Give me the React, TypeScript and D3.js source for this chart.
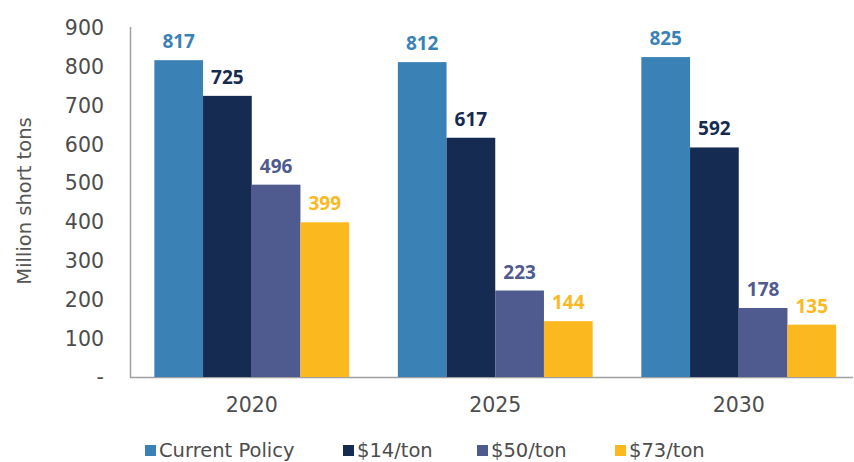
import React from "react";
import * as d3 from "d3";

const categories = ["2020", "2025", "2030"];
const seriesNames = ["Current Policy", "$14/ton", "$50/ton", "$73/ton"];
const currentPolicy = [817, 812, 825];
const ton14 = [725, 617, 592];
const ton50 = [496, 223, 178];
const ton73 = [399, 144, 135];
const yTicks = [0, 100, 200, 300, 400, 500, 600, 700, 800, 900];
const colors = ["#3a82b5", "#152b51", "#4f5a8f", "#fbb91f"];

const W = 854;
const H = 462;
const FONT = "'DejaVu Sans', sans-serif";
const BOLD_FONT = "'Open Sans', sans-serif";
const TEXT = "#4d4d4d";

export default function App() {
  const series = [currentPolicy, ton14, ton50, ton73];
  const y = d3.scaleLinear().domain([0, 900]).range([377, 28]);
  const x0 = d3
    .scaleBand<string>()
    .domain(categories)
    .range([130, 860.5])
    .paddingInner(0.2)
    .paddingOuter(0.1);
  const x1 = d3
    .scaleBand<string>()
    .domain(seriesNames)
    .range([0, x0.bandwidth()])
    .padding(0);

  const legendX = [145, 343, 477, 615];

  return (
    <svg
      width={W}
      height={H}
      style={{ position: "absolute", left: 0, top: 0, background: "#fff" }}
      fontFamily={FONT}
    >
      <line x1={130.5} x2={130.5} y1={27} y2={377.5} stroke="#a0a0a0" strokeWidth={1.5} />
      <line x1={130} x2={853} y1={377.5} y2={377.5} stroke="#a0a0a0" strokeWidth={1.5} />
      {yTicks.map((t) => (
        <text
          key={t}
          x={104}
          y={y(t)}
          dy="0.36em"
          textAnchor="end"
          fontSize={20.5}
          fill={TEXT}
        >
          {t === 0 ? "-" : t}
        </text>
      ))}
      <text
        transform={`translate(24,201) rotate(-90)`}
        textAnchor="middle"
        dy="0.36em"
        fontSize={19.5}
        fill="#555"
      >
        Million short tons
      </text>

      {categories.map((c, ci) => (
        <g key={c} transform={`translate(${x0(c)},0)`}>
          {seriesNames.map((s, si) => {
            const v = series[si][ci];
            return (
              <g key={s}>
                <rect
                  x={x1(s)}
                  y={y(v)}
                  width={x1.bandwidth()}
                  height={y(0) - y(v)}
                  fill={colors[si]}
                />
                <text
                  x={(x1(s) as number) + x1.bandwidth() / 2}
                  y={y(v) - 12}
                  textAnchor="middle"
                  fontSize={19}
                  fontWeight="bold"
                  fontFamily={BOLD_FONT}
                  fill={colors[si]}
                >
                  {v}
                </text>
              </g>
            );
          })}
          <text
            x={x0.bandwidth() / 2}
            y={405}
            dy="0.36em"
            textAnchor="middle"
            fontSize={20.5}
            fill={TEXT}
          >
            {c}
          </text>
        </g>
      ))}

      {seriesNames.map((s, i) => (
        <g key={s} transform={`translate(${legendX[i]},0)`}>
          <rect x={0} y={445} width={11} height={11} fill={colors[i]} />
          <text x={14} y={449.5} dy="0.36em" fontSize={19.5} fill={TEXT}>
            {s}
          </text>
        </g>
      ))}
    </svg>
  );
}
